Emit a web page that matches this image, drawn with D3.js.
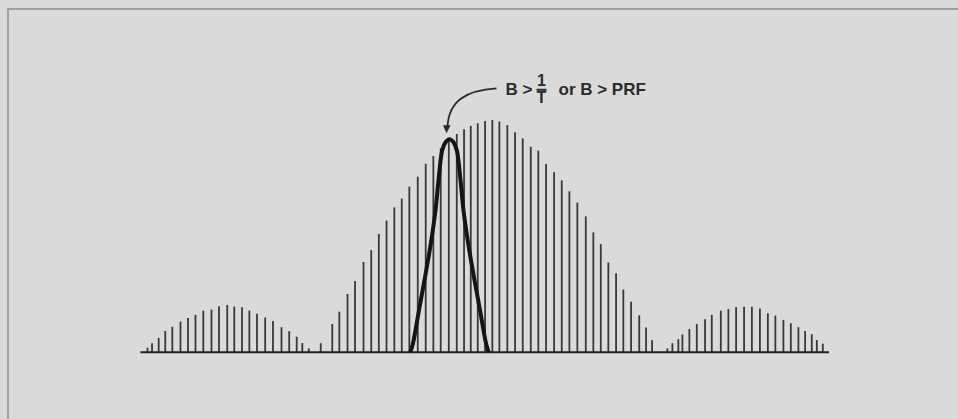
<!DOCTYPE html>
<html>
<head>
<meta charset="utf-8">
<script src="https://cdn.jsdelivr.net/npm/d3@7"></script>
<style>
  html, body { margin: 0; padding: 0; background: #dadada; }
  svg { display: block; }
</style>
</head>
<body>
<div class="spectrum-plot"></div>
<script>
const width = 958;
const height = 419;

// spectral lines: position in units of line spacing (0 = main lobe peak), amplitude in % of peak
const lineFreq = [
  -45.07, -44.48, -43.61, -42.75, -41.83, -40.76, -39.78, -38.80, -37.78, -36.71,
  -35.73, -34.65, -33.73, -32.72, -31.76, -30.76, -29.69, -28.67, -27.56, -26.55,
  -25.57, -24.84, -24.00, -22.43,
  -20.92, -20.00, -18.93, -17.95, -16.84, -15.83, -14.84, -13.83, -12.81, -11.84,
  -10.85, -9.75, -8.71, -7.71, -6.75, -5.69, -4.65, -3.70, -2.82, -1.91,
  -0.95, 0, 0.92, 1.96, 2.97, 3.97, 5.02, 6.01, 7.02, 8.07,
  9.07, 10.07, 11.11, 12.21, 13.20, 14.17, 15.16, 16.17, 17.12, 18.13,
  19.20, 20.09, 20.88,
  22.88, 23.53, 24.31, 24.84, 25.75, 26.72, 27.80, 28.68, 29.86, 30.85,
  31.86, 32.90, 33.92, 34.97, 36.01, 36.99, 38.04, 39.01, 40.00, 40.88,
  41.75, 42.41, 43.19
];
const lineAmp = [
  2.0, 3.9, 6.2, 9.2, 11.0, 13.2, 14.8, 16.1, 17.9, 18.4,
  19.8, 20.4, 19.7, 19.4, 18.0, 16.6, 15.0, 13.5, 10.8, 9.1,
  6.7, 4.0, 1.7, 3.9,
  12.2, 17.5, 25.1, 30.7, 38.9, 44.0, 51.0, 56.7, 62.4, 66.2,
  71.3, 75.6, 81.2, 84.5, 87.9, 91.0, 94.0, 96.0, 97.5, 98.6,
  99.6, 100, 99.4, 97.8, 94.7, 92.1, 88.5, 86.8, 81.1, 77.5,
  74.0, 69.3, 64.4, 58.5, 51.6, 46.6, 38.7, 34.0, 27.0, 21.8,
  15.9, 10.7, 5.2,
  1.7, 3.9, 5.6, 7.7, 10.0, 12.2, 14.2, 16.1, 17.9, 18.6,
  19.4, 19.6, 19.6, 18.9, 16.8, 15.8, 13.9, 12.5, 10.8, 9.2,
  7.8, 5.3, 3.7
];

// filter response (bold curve)
const filterFreq = [-10.72, -10.37, -9.59, -8.80, -8.04, -7.43, -7.00, -6.55, -6.12, -5.60,
  -5.08, -4.65, -4.20, -3.77, -3.16, -2.40, -1.61, -0.83, -0.48];
const filterAmp = [0, 3.9, 18.1, 32.3, 46.9, 61.1, 75.3, 87.0, 90.4, 91.7,
  90.4, 87.0, 75.3, 61.1, 46.9, 32.3, 18.1, 3.9, 0];

const labelLeft = 'B >';
const labelNum = '1';
const labelDen = 'T';
const labelRight = 'or B > PRF';

const svg = d3.select('.spectrum-plot')
  .append('svg')
  .attr('width', width)
  .attr('height', height)

svg.append('rect')
  .attr('width', width)
  .attr('height', height)
  .attr('fill', '#dadada')

// frame of the scanned figure
svg.append('path')
  .attr('d', 'M8,419 L8,9 L958,9')
  .attr('fill', 'none')
  .attr('stroke', '#8c8c8c')
  .attr('stroke-width', 1.5)

const x = d3.scaleLinear().domain([-46, 44]).range([140.4, 829.0]);
const y = d3.scaleLinear().domain([0, 100]).range([352.3, 120]);

const lines = lineFreq.map(function(f, i){
  return {f: f, a: lineAmp[i]}
})

svg.selectAll('.spec')
  .data(lines)
  .enter()
  .append('line')
  .attr('class', 'spec')
  .attr('x1', function(d){ return x(d.f) })
  .attr('x2', function(d){ return x(d.f) })
  .attr('y1', y(0))
  .attr('y2', function(d){ return y(d.a) })
  .attr('stroke', '#383838')
  .attr('stroke-width', 1.8)

// baseline
svg.append('line')
  .attr('x1', x(-46))
  .attr('x2', x(44))
  .attr('y1', y(0))
  .attr('y2', y(0))
  .attr('stroke', '#222')
  .attr('stroke-width', 2)

const filterPts = filterFreq.map(function(f, i){
  return [x(f), y(filterAmp[i])]
})

svg.append('path')
  .attr('d', d3.line().curve(d3.curveCatmullRom.alpha(0.5))(filterPts))
  .attr('fill', 'none')
  .attr('stroke', '#151515')
  .attr('stroke-width', 4)
  .attr('stroke-linejoin', 'round')

// annotation arrow pointing at the filter peak
const tipX = x(-5.6) - 3;
const tipY = y(91.7) - 6;
const startX = tipX + 50;
const startY = tipY - 45;

svg.append('path')
  .attr('d', 'M' + startX + ',' + startY
    + ' C' + (startX - 30) + ',' + (startY + 2) + ' '
    + (tipX + 2) + ',' + (startY + 12) + ' '
    + (tipX + 1) + ',' + (tipY - 6))
  .attr('fill', 'none')
  .attr('stroke', '#2a2a2a')
  .attr('stroke-width', 1.8)

svg.append('path')
  .attr('d', 'M' + (tipX - 3.5) + ',' + (tipY - 8)
    + ' L' + (tipX + 4) + ',' + (tipY - 8)
    + ' L' + tipX + ',' + tipY + ' Z')
  .attr('fill', '#2a2a2a')

const label = svg.append('g')
  .attr('font-family', '"Liberation Sans", Arial, sans-serif')
  .attr('font-weight', 'bold')
  .attr('fill', '#2b2b2b')

label.append('text')
  .attr('x', startX + 9)
  .attr('y', startY + 7)
  .attr('font-size', 17)
  .text(labelLeft)

label.append('text')
  .attr('x', startX + 45)
  .attr('y', startY - 2)
  .attr('text-anchor', 'middle')
  .attr('font-size', 16)
  .text(labelNum)

label.append('line')
  .attr('x1', startX + 40)
  .attr('x2', startX + 50)
  .attr('y1', startY + 1.5)
  .attr('y2', startY + 1.5)
  .attr('stroke', '#2b2b2b')
  .attr('stroke-width', 2)

label.append('text')
  .attr('x', startX + 45)
  .attr('y', startY + 14.5)
  .attr('text-anchor', 'middle')
  .attr('font-size', 16)
  .text(labelDen)

label.append('text')
  .attr('x', startX + 62)
  .attr('y', startY + 7)
  .attr('font-size', 17)
  .text(labelRight)
</script>
</body>
</html>
